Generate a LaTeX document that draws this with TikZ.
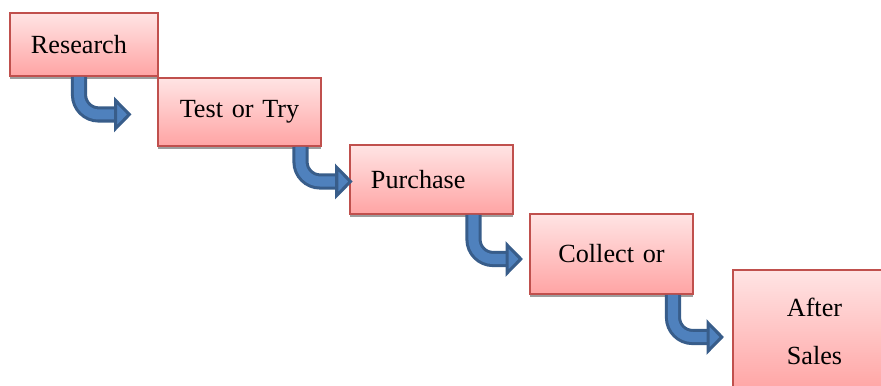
\documentclass[tikz,border=0pt]{standalone}
\usepackage{fontspec}
\setmainfont{Liberation Serif}
\usetikzlibrary{arrows.meta,calc}
\definecolor{boxred}{HTML}{C0504D}
\definecolor{pinktop}{HTML}{FFE4E4}
\definecolor{pinkbot}{HTML}{FFA4A4}
\definecolor{flowblue}{HTML}{4F81BD}
\definecolor{flowdark}{HTML}{385D8A}

\begin{document}
\begin{tikzpicture}[
  stage/.style={draw=boxred,line width=0.8pt,top color=pinktop,bottom color=pinkbot,
    inner xsep=0.338cm,inner ysep=2pt,font=\fontsize{12}{14}\selectfont,
    preaction={fill=black!38,transform canvas={yshift=-1.5pt}}},
  flow/.style={draw=flowdark,line width=1.4pt,double=flowblue,double distance=4.6pt,
    rounded corners=9pt,-{Triangle[length=8pt,width=16pt,fill=flowblue]}}]
\useasboundingbox (0,0) rectangle (14.184,-6.199);
% the five steps, going down to the right
\node[stage,text width=1.707cm,align=left,minimum height=1.014cm] (b1) at (1.352,-0.716) {Research};
\node[stage,text width=1.948cm,align=center,minimum height=1.095cm] (b2) at (3.856,-1.803) {Test or Try};
\node[stage,text width=1.948cm,align=left,minimum height=1.111cm] (b3) at (6.947,-2.890) {Purchase};
\node[stage,text width=1.948cm,align=center,minimum height=1.288cm] (b4) at (9.845,-4.089) {Collect or};
\node[stage,text width=1.948cm,align=center,minimum height=1.964cm,
  font=\fontsize{12}{22}\selectfont] (b5) at (13.113,-5.329) {After\\Sales};
% bent arrows between the steps
\coordinate (t1) at (2.117,-1.843);
\coordinate (t2) at (5.678,-2.922);
\coordinate (t3) at (8.420,-4.170);
\coordinate (t4) at (11.656,-5.426);
\draw[flow] ([xshift=-0.08cm]b1.south) |- (t1);
\draw[flow] ([xshift=0.982cm]b2.south) |- (t2);
\draw[flow] ([xshift=0.676cm]b3.south) |- (t3);
\draw[flow] ([xshift=0.99cm]b4.south) |- (t4);
\end{tikzpicture}
\end{document}
